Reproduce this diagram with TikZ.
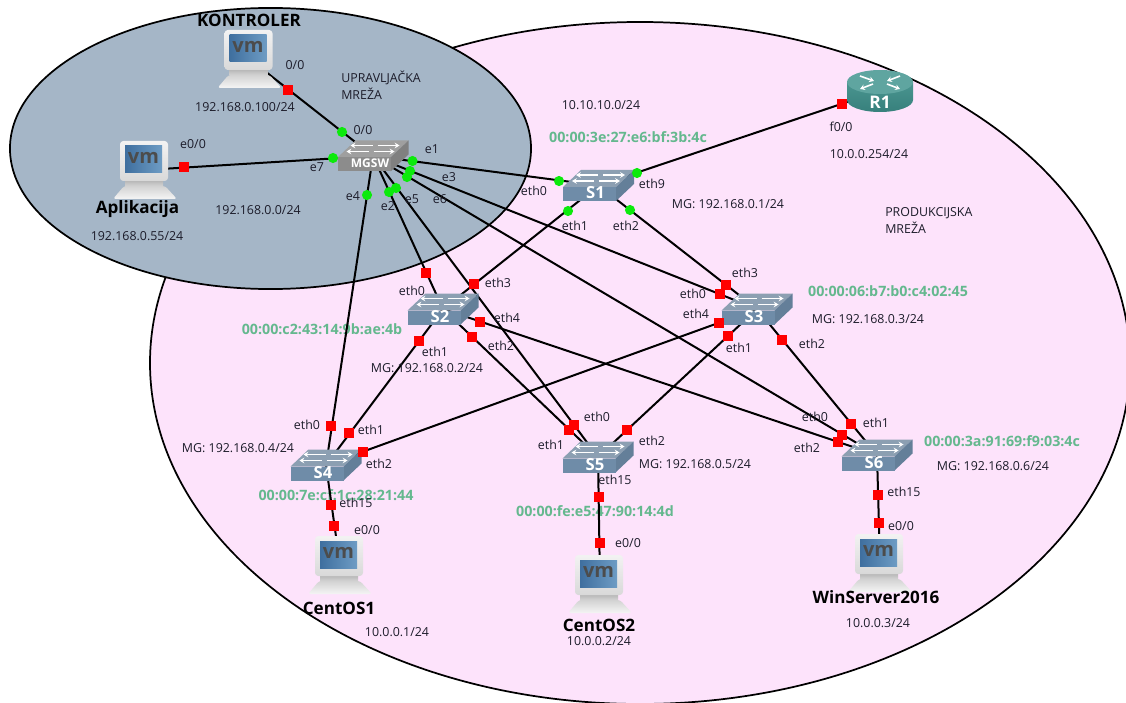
\documentclass[tikz,border=0pt]{standalone}
\usepackage{fontspec}
\setmainfont{Open Sans}
\usetikzlibrary{arrows.meta}
\pgfdeclarelayer{zones}
\pgfdeclarelayer{wires}
\pgfsetlayers{zones,wires,main}
\definecolor{pinkzone}{HTML}{FDE3FB}
\definecolor{grayzone}{HTML}{A5B6C7}
\definecolor{macgreen}{HTML}{64B88E}
\definecolor{labink}{HTML}{1C1C2A}
\definecolor{swtop}{HTML}{8C9FB2}
\definecolor{swfront}{HTML}{6F8CA8}
\definecolor{swside}{HTML}{647F99}
\definecolor{scrA}{HTML}{3F6F9F}
\definecolor{scrB}{HTML}{6E9CC4}
\definecolor{rttop}{HTML}{5FA5A0}
\definecolor{rtA}{HTML}{4A9590}
\definecolor{rtB}{HTML}{37807C}
\definecolor{portgreen}{HTML}{0CEA0C}
\tikzset{
  zone/.style={draw=black,line width=1.3pt},
  lbl/.style={font=\fontsize{9.3pt}{10pt}\selectfont,text=labink,inner sep=0pt},
  lblleft/.style={lbl,anchor=west},
  mac/.style={font=\fontsize{10.7pt}{12pt}\selectfont\bfseries,text=macgreen,inner sep=0pt},
  hostname/.style={font=\fontsize{12.8pt}{14pt}\selectfont\bfseries,text=black,inner sep=0pt},
  wire/.style={draw=black,line width=1.5pt},
  rport/.style={rectangle,fill=red,minimum size=7.2pt,inner sep=0pt},
  gport/.style={circle,fill=portgreen,minimum size=7.6pt,inner sep=0pt},
  swbox/.style={rectangle,minimum width=53pt,minimum height=23.5pt,inner sep=0pt},
  hostbox/.style={rectangle,minimum width=49pt,minimum height=44pt,inner sep=0pt},
  rtbox/.style={rectangle,minimum width=49pt,minimum height=32pt,inner sep=0pt},
  swarrow/.style={white,line width=1.1pt,-{Stealth[length=3.6pt,width=4.2pt]}},
}
\newcommand{\swicon}[6]{% node, label, font size, top, front, side
  \begin{scope}[shift={(#1.center)}]
    \fill[#4] (-17.5,-15.5) -- (35.5,-15.5) -- (17.5,1.5) -- (-35.5,1.5) -- cycle;
    \fill[#6] (17.5,1.5) -- (35.5,-15.5) -- (35.5,-1.5) -- (17.5,15.5) -- cycle;
    \fill[#5] (-35.5,1.5) rectangle (17.5,15.5);
    \draw[swarrow] (-0.5,-10.5) -- (-22.5,-10.5);
    \draw[swarrow] (4.5,-10.5) -- (26.5,-10.5);
    \draw[swarrow] (-4.5,-4.5) -- (-26.5,-4.5);
    \draw[swarrow] (0.5,-4.5) -- (21.5,-4.5);
    \node[text=white,font=\fontsize{#3}{12pt}\selectfont\bfseries,inner sep=0pt] (#1-t) at (-3,7.5) {#2};
  \end{scope}}
\newcommand{\vmicon}[1]{%
  \begin{scope}[shift={(#1.center)}]
    \shade[top color=gray!55,bottom color=gray!30] (-20,11) rectangle (18,17);
    \shade[top color=gray!35,bottom color=gray!8,rounded corners=2pt]
      (-21,16) -- (20,16) -- (32,29) -- (-32,29) -- cycle;
    \shade[top color=gray!10,bottom color=gray!30,rounded corners=2.5pt] (-25,-29) rectangle (23,11);
    \shade[left color=scrA,right color=scrB] (-20,-24) rectangle (17,3);
    \node[text=black!70,font=\fontsize{15pt}{15pt}\selectfont\bfseries,inner sep=0pt] (#1-t) at (-1.5,-12) {vm};
  \end{scope}}
\begin{document}
\begin{tikzpicture}[x=0.75pt,y=-0.75pt]
\useasboundingbox (0,0) rectangle (1126,702);
\begin{pgfonlayer}{zones}
  \clip (0,0) rectangle (1126,702);
  \fill[white] (0,0) rectangle (1126,702);
  \path[zone,fill=pinkzone] (640,363) ellipse [x radius=367.5pt,y radius=255.75pt];
  \path[zone,fill=grayzone] (270.5,148.5) ellipse [x radius=195.4pt,y radius=105.4pt];
  \node[mac] (macS1) at (628,137) {00:00:3e:27:e6:bf:3b:4c};
  \node[mac] (macS2) at (322,329) {00:00:c2:43:14:9b:ae:4b};
  \node[mac] (macS3) at (888,291) {00:00:06:b7:b0:c4:02:45};
  \node[mac] (macS4) at (336,495) {00:00:7e:cf:1c:28:21:44};
  \node[mac] (macS5) at (595,511) {00:00:fe:e5:47:90:14:4d};
  \node[mac] (macS6) at (1002,441) {00:00:3a:91:69:f9:03:4c};
\end{pgfonlayer}

% devices
\node[hostbox] (kontroler) at (249.5,59) {};
\node[hostbox] (aplikacija) at (145,170) {};
\node[hostbox] (centos1) at (340,565) {};
\node[hostbox] (centos2) at (600,584) {};
\node[hostbox] (winserver) at (880,563) {};
\node[swbox] (mgsw) at (373,156) {};
\node[swbox] (s1) at (598.5,185.5) {};
\node[swbox] (s2) at (443,309) {};
\node[swbox] (s3) at (757,309) {};
\node[swbox] (s4) at (326,465) {};
\node[swbox] (s5) at (598,457) {};
\node[swbox] (s6) at (877,455) {};
\node[rtbox] (r1) at (880,91) {};

% connectors
\begin{pgfonlayer}{wires}
  \draw[wire] (kontroler.center) -- (mgsw.center);
  \draw[wire] (aplikacija.center) -- (mgsw.center);
  \draw[wire] (mgsw.center) -- (s1.center);
  \draw[wire] (mgsw.center) -- (s2.center);
  \draw[wire] (mgsw.center) -- (s3.center);
  \draw[wire] (mgsw.center) -- (s4.center);
  \draw[wire] (mgsw.center) -- (s5.center);
  \draw[wire] (mgsw.center) -- (s6.center);
  \draw[wire] (s1.center) -- (r1.center);
  \draw[wire] (s1.center) -- (s2.center);
  \draw[wire] (s1.center) -- (s3.center);
  \draw[wire] (s2.center) -- (s4.center);
  \draw[wire] (s2.center) -- (s5.center);
  \draw[wire] (s2.center) -- (s6.center);
  \draw[wire] (s3.center) -- (s4.center);
  \draw[wire] (s3.center) -- (s5.center);
  \draw[wire] (s3.center) -- (s6.center);
  \draw[wire] (s4.center) -- (centos1.center);
  \draw[wire] (s5.center) -- (centos2.center);
  \draw[wire] (s6.center) -- (winserver.center);
\end{pgfonlayer}

% icons
\vmicon{kontroler}\vmicon{aplikacija}\vmicon{centos1}\vmicon{centos2}\vmicon{winserver}
\swicon{mgsw}{MGSW}{9pt}{gray!75}{gray!90}{gray}
\swicon{s1}{S1}{12.5pt}{swtop}{swfront}{swside}
\swicon{s2}{S2}{12.5pt}{swtop}{swfront}{swside}
\swicon{s3}{S3}{12.5pt}{swtop}{swfront}{swside}
\swicon{s4}{S4}{12.5pt}{swtop}{swfront}{swside}
\swicon{s5}{S5}{12.5pt}{swtop}{swfront}{swside}
\swicon{s6}{S6}{12.5pt}{swtop}{swfront}{swside}
% router
\begin{scope}[shift={(r1.center)}]
  \path[top color=rtA,bottom color=rtB]
    (-33,-9) -- (-33,9) arc[start angle=180,end angle=360,x radius=24.75pt,y radius=9pt] -- (33,-9) -- cycle;
  \path[fill=rttop] (0,-9) ellipse [x radius=24.75pt,y radius=9pt];
  \draw[white,line width=1.2pt,-{Stealth[length=3.6pt,width=4.2pt]}] (-20,-15) -- (-6,-10);
  \draw[white,line width=1.2pt,-{Stealth[length=3.6pt,width=4.2pt]}] (20,-15) -- (7,-10);
  \draw[white,line width=1.2pt,-{Stealth[length=3.6pt,width=4.2pt]}] (-7,-7) -- (-20,-2);
  \draw[white,line width=1.2pt,-{Stealth[length=3.6pt,width=4.2pt]}] (7,-7) -- (20,-2);
  \node[text=white,font=\fontsize{13pt}{13pt}\selectfont\bfseries,inner sep=0pt] (r1-t) at (0,11) {R1};
\end{scope}

% ports
\node[rport] (pKon) at (288,90) {};
\node[rport] (pApl) at (184,167) {};
\node[gport] (gM00) at (342,132) {};
\node[gport] (gMe7) at (333,158) {};
\node[gport] (gMe1) at (412.5,161) {};
\node[gport] (gMe3) at (410,171) {};
\node[gport] (gMe6) at (407,177) {};
\node[gport] (gMe4) at (367,195) {};
\node[gport] (gMe2) at (389,192) {};
\node[gport] (gMe5) at (396,188) {};
\node[gport] (gS10) at (559,181) {};
\node[gport] (gS19) at (637,173) {};
\node[gport] (gS11) at (568,211) {};
\node[gport] (gS12) at (630,210) {};
\node[rport] (pR1) at (842,104) {};
\node[rport] (pS20) at (426,273) {};
\node[rport] (pS23) at (474,284) {};
\node[rport] (pS24) at (480,322) {};
\node[rport] (pS22) at (472,337) {};
\node[rport] (pS21) at (419,341) {};
\node[rport] (pS33) at (726,285) {};
\node[rport] (pS30) at (720,294) {};
\node[rport] (pS34) at (719,323) {};
\node[rport] (pS31) at (728,336) {};
\node[rport] (pS32) at (782,340) {};
\node[rport] (pS40) at (331,426) {};
\node[rport] (pS41) at (349,433) {};
\node[rport] (pS42) at (363,452) {};
\node[rport] (pS415) at (331,505) {};
\node[rport] (pC1) at (334,526) {};
\node[rport] (pS50) at (574,425) {};
\node[rport] (pS51) at (569,430) {};
\node[rport] (pS52) at (627,430) {};
\node[rport] (pS515) at (599,497) {};
\node[rport] (pC2) at (600,543) {};
\node[rport] (pS61) at (851,424) {};
\node[rport] (pS60) at (842,435) {};
\node[rport] (pS62) at (838,442) {};
\node[rport] (pS615) at (878,495) {};
\node[rport] (pW) at (879,523) {};

% names
\node[hostname] (nKon) at (249,20) {KONTROLER};
\node[hostname] (nApl) at (137.5,209) {Aplikacija};
\node[hostname] (nC1) at (339,608) {CentOS1};
\node[hostname] (nC2) at (599,625) {CentOS2};
\node[hostname] (nW) at (876,597) {WinServer2016};

% labels
\node[lbl] (a1) at (295,65) {0/0};
\node[lbl] (a2) at (245,107) {192.168.0.100/24};
\node[lblleft] (a3) at (341,78) {UPRAVLJAČKA};
\node[lblleft] (a4) at (341,94) {MREŽA};
\node[lbl] (a5) at (363,130) {0/0};
\node[lbl] (a6) at (193,144) {e0/0};
\node[lbl] (a7) at (317,167) {e7};
\node[lbl] (a8) at (432,149) {e1};
\node[lbl] (a9) at (449,177) {e3};
\node[lbl] (a10) at (353,196) {e4};
\node[lbl] (a11) at (388,206) {e2};
\node[lbl] (a12) at (412,199) {e5};
\node[lbl] (a13) at (440,199) {e6};
\node[lbl] (a14) at (137,236) {192.168.0.55/24};
\node[lbl] (a15) at (258,210) {192.168.0.0/24};
\node[lbl] (a16) at (534,191) {eth0};
\node[lbl] (a17) at (601,105) {10.10.10.0/24};
\node[lbl] (a18) at (841,127) {f0/0};
\node[lbl] (a19) at (869,154) {10.0.0.254/24};
\node[lbl] (a20) at (652,184) {eth9};
\node[lbl] (a21) at (575,226) {eth1};
\node[lbl] (a22) at (626,226) {eth2};
\node[lbl] (a23) at (728,204) {MG: 192.168.0.1/24};
\node[lblleft] (a24) at (885,213) {PRODUKCIJSKA};
\node[lblleft] (a25) at (885,228) {MREŽA};
\node[lbl] (a26) at (745,273) {eth3};
\node[lbl] (a27) at (693,294) {eth0};
\node[lbl] (a28) at (696,314) {eth4};
\node[lbl] (a29) at (868,319) {MG: 192.168.0.3/24};
\node[lbl] (a30) at (739,348) {eth1};
\node[lbl] (a31) at (812,344) {eth2};
\node[lbl] (a32) at (412,291) {eth0};
\node[lbl] (a33) at (498,283) {eth3};
\node[lbl] (a34) at (507,318) {eth4};
\node[lbl] (a35) at (435,352) {eth1};
\node[lbl] (a36) at (501,346) {eth2};
\node[lbl] (a37) at (427,368) {MG: 192.168.0.2/24};
\node[lbl] (a38) at (307,425) {eth0};
\node[lbl] (a39) at (371,430) {eth1};
\node[lbl] (a40) at (238,448) {MG: 192.168.0.4/24};
\node[lbl] (a41) at (379,464) {eth2};
\node[lbl] (a42) at (356,503) {eth15};
\node[lbl] (a43) at (367,530) {e0/0};
\node[lbl] (a44) at (597,417) {eth0};
\node[lbl] (a45) at (551,445) {eth1};
\node[lbl] (a46) at (652,441) {eth2};
\node[lbl] (a47) at (695,464) {MG: 192.168.0.5/24};
\node[lbl] (a48) at (615,480) {eth15};
\node[lbl] (a49) at (628,543) {e0/0};
\node[lbl] (a50) at (397,632) {10.0.0.1/24};
\node[lbl] (a51) at (599,641) {10.0.0.2/24};
\node[lbl] (a52) at (815,417) {eth0};
\node[lbl] (a53) at (876,423) {eth1};
\node[lbl] (a54) at (807,448) {eth2};
\node[lbl] (a55) at (993,466) {MG: 192.168.0.6/24};
\node[lbl] (a56) at (904,492) {eth15};
\node[lbl] (a57) at (901,526) {e0/0};
\node[lbl] (a58) at (878,623) {10.0.0.3/24};
\end{tikzpicture}
\end{document}
